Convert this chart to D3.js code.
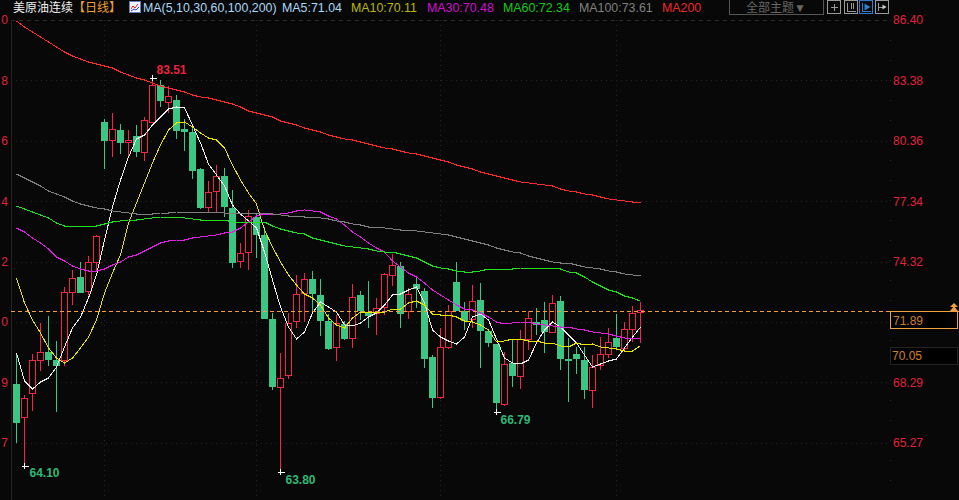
<!DOCTYPE html>
<html>
<head>
<meta charset="utf-8">
<script src="https://cdn.jsdelivr.net/npm/d3@7"></script>
<style>
    html, body { margin: 0; padding: 0; background: #080808; overflow: hidden; }
    svg { display: block; font-family: "Liberation Sans", "Noto Sans CJK SC", sans-serif; }
</style>
</head>
<body>
<svg width="959" height="500"></svg>
<script>
const opens = [68.20,66.55,67.75,69.40,69.80,69.40,69.40,72.80,73.55,72.85,74.30,81.30,80.40,80.90,80.30,80.60,79.80,81.30,83.15,82.30,
    82.40,80.95,80.80,78.95,77.05,77.85,78.60,77.00,74.35,74.80,76.55,75.65,71.45,68.05,68.65,71.35,72.75,73.45,72.65,71.35,
    70.05,71.20,70.50,72.65,71.80,71.75,72.05,73.65,74.10,71.85,73.20,72.85,69.55,67.55,70.05,73.30,71.85,71.45,72.40,70.85,
    70.20,67.20,69.25,68.60,70.45,71.30,71.40,70.80,72.35,69.45,69.70,69.40,67.90,69.15,69.70,70.50,70.00,70.95,71.80];
const closes = [66.25,67.50,69.40,69.80,69.40,69.10,72.80,73.50,72.75,74.30,75.60,80.35,80.95,80.25,80.40,79.80,81.40,83.15,82.35,82.60,
    80.85,80.80,78.85,77.00,77.80,78.60,77.05,74.25,74.75,76.60,75.65,71.45,68.05,68.50,71.25,72.70,73.45,72.70,71.35,69.95,
    71.25,70.45,72.55,71.85,71.60,72.00,73.70,74.15,71.70,72.70,72.95,69.45,67.50,70.05,71.85,71.85,71.35,72.35,70.85,70.25,
    67.25,69.20,68.60,70.45,71.50,71.15,70.80,72.25,69.45,69.35,69.45,67.90,69.05,69.70,70.30,70.05,70.95,71.75,71.89];
const highs = [69.75,67.65,69.70,71.25,71.60,70.35,73.05,73.90,74.30,74.60,75.65,81.45,81.75,81.20,80.90,81.15,81.55,83.51,83.40,83.10,
    82.65,81.45,81.05,79.00,78.35,79.15,79.00,77.90,75.25,76.90,76.75,76.05,71.75,69.75,71.75,73.65,73.75,73.85,73.45,71.70,
    71.65,71.35,73.20,72.85,73.35,72.50,73.75,74.70,74.30,73.00,73.50,73.00,69.65,71.00,72.15,74.30,72.30,73.15,73.25,70.90,
    70.20,69.80,70.40,70.90,71.85,72.00,72.30,72.65,72.60,70.50,70.05,70.05,69.65,70.55,71.00,71.70,71.30,72.10,72.30];
const lows = [65.25,64.10,66.85,68.85,69.10,66.80,69.10,72.15,72.75,72.65,73.90,78.95,79.55,79.70,79.55,79.55,79.35,81.25,82.05,81.75,
    80.45,79.85,78.45,76.95,76.75,76.75,76.55,74.00,74.00,73.90,74.50,71.45,67.90,63.80,68.45,71.00,71.30,71.80,70.60,69.90,
    69.35,70.40,70.00,71.40,71.00,70.65,71.65,73.10,71.00,71.45,72.00,69.00,67.00,67.45,69.95,71.85,70.90,71.00,69.00,70.05,
    66.79,67.10,68.05,67.95,69.90,70.65,69.75,70.75,68.90,67.30,68.70,67.45,67.00,68.90,69.50,70.00,69.80,70.30,70.25];

const ma5 = [69.75,68.35,67.95,68.30,68.50,69.05,70.05,71.00,71.55,72.50,73.65,75.40,77.05,78.40,79.55,80.45,80.65,81.15,81.55,81.95,
    82.05,82.00,81.15,80.25,79.20,78.65,78.10,77.15,76.70,76.35,76.00,74.80,73.40,72.05,71.05,70.45,70.80,71.75,72.30,72.05,
    71.80,71.15,71.10,71.25,71.55,71.75,72.15,72.65,72.70,72.90,73.05,72.25,70.90,70.55,70.35,70.20,70.55,71.55,71.70,71.40,
    70.45,69.50,69.25,69.20,69.40,70.25,70.90,71.30,71.05,70.65,70.25,69.65,69.05,69.20,69.35,69.45,70.00,70.55,71.04];
const ma10 = [73.50,72.25,71.40,70.75,70.00,69.50,69.25,69.50,70.00,70.55,71.40,72.75,73.75,74.65,76.25,77.25,78.25,79.25,80.15,80.90,
    81.25,81.30,81.05,80.75,80.50,80.40,80.00,79.15,78.40,77.75,77.20,75.90,75.05,74.30,73.65,73.15,72.70,72.50,72.15,71.50,
    71.15,71.00,71.50,71.80,71.80,71.80,71.80,71.95,71.95,72.25,72.35,72.15,71.70,71.65,71.65,71.55,71.35,71.30,71.15,70.90,
    70.30,70.35,70.45,70.45,70.35,70.35,70.25,70.25,70.10,70.05,70.25,70.15,70.20,70.05,70.00,69.95,69.85,69.85,70.11];
const ma30 = [76.00,75.80,75.50,75.25,74.95,74.55,74.35,74.10,73.95,73.85,73.85,73.95,74.15,74.30,74.55,74.65,74.85,75.05,75.25,75.35,
    75.40,75.40,75.50,75.55,75.60,75.65,75.75,75.80,76.00,76.30,76.60,76.70,76.70,76.70,76.75,76.85,76.90,76.85,76.80,76.60,
    76.45,76.15,75.80,75.55,75.25,75.00,74.80,74.35,74.05,73.75,73.55,73.25,72.90,72.65,72.40,72.15,71.95,71.90,71.75,71.55,
    71.30,71.20,71.25,71.30,71.30,71.20,71.15,71.10,71.05,71.05,70.95,70.90,70.80,70.75,70.70,70.60,70.50,70.45,70.48];
const ma60 = [77.10,76.95,76.80,76.65,76.50,76.25,76.10,76.10,76.10,76.10,76.10,76.20,76.30,76.35,76.40,76.40,76.45,76.50,76.55,76.55,
    76.55,76.50,76.45,76.40,76.40,76.40,76.40,76.30,76.25,76.30,76.30,76.30,76.10,75.95,75.85,75.75,75.70,75.50,75.40,75.30,
    75.20,75.10,75.05,75.00,74.95,74.85,74.80,74.80,74.70,74.60,74.50,74.30,74.10,74.00,73.95,73.85,73.80,73.80,73.85,73.95,
    73.95,73.95,73.95,74.00,74.00,74.00,74.00,74.00,73.95,73.80,73.75,73.55,73.30,73.10,72.90,72.80,72.60,72.50,72.34];
const ma100 = [78.70,78.50,78.30,78.10,77.85,77.70,77.55,77.35,77.20,77.10,77.00,76.95,76.85,76.80,76.75,76.70,76.70,76.70,76.75,76.75,
    76.80,76.80,76.80,76.80,76.80,76.80,76.75,76.75,76.75,76.75,76.75,76.75,76.70,76.65,76.60,76.60,76.55,76.55,76.50,76.45,
    76.35,76.30,76.20,76.15,76.05,76.05,76.00,75.95,75.90,75.90,75.85,75.80,75.75,75.70,75.65,75.55,75.45,75.35,75.25,75.15,
    75.00,74.90,74.80,74.75,74.60,74.50,74.40,74.30,74.25,74.25,74.15,74.05,74.00,73.95,73.85,73.80,73.70,73.65,73.61];
const ma200 = [86.35,86.05,85.80,85.55,85.30,85.05,84.80,84.60,84.45,84.30,84.20,84.10,84.00,83.80,83.65,83.50,83.40,83.25,83.10,83.00,
    82.90,82.80,82.65,82.55,82.50,82.40,82.30,82.20,82.05,81.85,81.75,81.65,81.55,81.35,81.25,81.15,81.00,80.90,80.80,80.65,
    80.55,80.45,80.40,80.30,80.20,80.10,80.00,79.95,79.85,79.75,79.70,79.60,79.50,79.40,79.30,79.15,79.05,78.95,78.80,78.70,
    78.60,78.50,78.40,78.30,78.25,78.20,78.15,78.10,77.95,77.85,77.80,77.70,77.65,77.55,77.45,77.40,77.35,77.30,77.30];

const priceTicks = [86.40, 83.38, 80.36, 77.34, 74.32, 71.30, 68.29, 65.27];
const timeTicks = [11, 30, 53, 75];
const lastPrice = 71.89;
const openPrice = 70.05;

const maSeries = [
    { values: ma5, color: '#f0f0f0' },
    { values: ma10, color: '#e6e600' },
    { values: ma30, color: '#e020e0' },
    { values: ma60, color: '#20e020' },
    { values: ma100, color: '#808080' },
    { values: ma200, color: '#ff2a2a' }
];

// high/low callouts: candle index, price, where the text sits
const extremes = [
    { i: 17, price: 83.51, color: '#e8233f', tx: 4, ty: -4 },
    { i: 1, price: 64.10, color: '#2fb878', tx: 5, ty: 11 },
    { i: 33, price: 63.80, color: '#2fb878', tx: 5, ty: 12 },
    { i: 60, price: 66.79, color: '#2fb878', tx: 4, ty: 12 }
];

const headerTexts = [
    { t: '美原油连续', x: 13, color: '#f0f0f0', size: 12 },
    { t: '【日线】', x: 73, color: '#f0a030', size: 12 },
    { t: 'MA(5,10,30,60,100,200)', x: 143, color: '#a8d8f8', size: 12.4 },
    { t: 'MA5:71.04', x: 282, color: '#a8d8f8', size: 12.4 },
    { t: 'MA10:70.11', x: 351, color: '#b8b800', size: 12.4 },
    { t: 'MA30:70.48', x: 427, color: '#d010d0', size: 12.4 },
    { t: 'MA60:72.34', x: 503, color: '#18c818', size: 12.4 },
    { t: 'MA100:73.61', x: 579, color: '#808080', size: 12.4 },
    { t: 'MA200', x: 662, color: '#f02828', size: 12.4 }
];

const BG = '#080808';
const RED = '#f5254a';
const GREEN = '#3cc684';

init();

function init() {
    const svg = d3.select('svg');

    const x = d3.scaleLinear().domain([0, 78]).range([16.5, 640.5]);
    const y = d3.scaleLinear().domain([86.4, 61.4]).range([20, 520]);
    const py = p => Math.round(y(p));
    const f2 = d3.format('.2f');

    svg.append('rect').attr('width', 959).attr('height', 500).attr('fill', BG);

    // grid
    const grid = svg.append('g').attr('shape-rendering', 'crispEdges');
    priceTicks.forEach(d => {
        grid.append('line')
            .attr('x1', 11).attr('x2', 889)
            .attr('y1', py(d) + 0.5).attr('y2', py(d) + 0.5)
            .attr('stroke', d === priceTicks[0] ? '#2c2c2c' : '#262626')
            .attr('stroke-dasharray', d === priceTicks[0] ? '4,4' : '1,4');
    });
    timeTicks.forEach(d => {
        grid.append('line')
            .attr('x1', x(d)).attr('x2', x(d))
            .attr('y1', 20).attr('y2', 500)
            .attr('stroke', '#262626')
            .attr('stroke-dasharray', '1,4');
    });

    // axes, the left one only shows the last digit of each price
    const leftAxis = d3.axisLeft(y).tickValues(priceTicks).tickFormat(d => f2(d).slice(-1)).tickSize(0).tickPadding(0);
    const rightAxis = d3.axisRight(y).tickValues(priceTicks).tickFormat(f2).tickSize(0).tickPadding(3);
    const gl = svg.append('g').attr('transform', 'translate(8,0)').call(leftAxis);
    const gr = svg.append('g').attr('transform', 'translate(890,0)').call(rightAxis);
    [gl, gr].forEach(g => {
        g.select('.domain').remove();
        g.selectAll('text').attr('fill', '#e0233f').style('font-size', '12px').style('font-family', '"Liberation Sans"');
    });
    svg.append('line').attr('x1', 11.5).attr('x2', 11.5).attr('y1', 20).attr('y2', 500)
        .attr('stroke', '#222').attr('shape-rendering', 'crispEdges');
    svg.append('line').attr('x1', 890.5).attr('x2', 890.5).attr('y1', 20).attr('y2', 500)
        .attr('stroke', '#2a2a2a').attr('stroke-dasharray', '1,19').attr('shape-rendering', 'crispEdges');

    // candles
    const candles = d3.range(opens.length).map(i => ({
        i, o: opens[i], c: closes[i], h: highs[i], l: lows[i], up: closes[i] >= opens[i]
    }));
    const gc = svg.append('g').attr('shape-rendering', 'crispEdges');
    const cg = gc.selectAll('g').data(candles).enter().append('g');
    cg.append('line')
        .attr('x1', d => x(d.i)).attr('x2', d => x(d.i))
        .attr('y1', d => py(d.h)).attr('y2', d => py(d.l))
        .attr('stroke', d => d.up ? RED : GREEN);
    cg.append('rect')
        .attr('x', d => x(d.i) - (d.up ? 3 : 3.5))
        .attr('y', d => py(Math.max(d.o, d.c)) + (d.up ? 0.5 : 0))
        .attr('width', d => d.up ? 6 : 7)
        .attr('height', d => Math.max(1, py(Math.min(d.o, d.c)) - py(Math.max(d.o, d.c))))
        .attr('fill', d => d.up ? BG : GREEN)
        .attr('stroke', d => d.up ? RED : 'none');

    // moving averages
    const line = d3.line().x((d, i) => x(i)).y(d => y(d));
    maSeries.forEach(s => {
        svg.append('path').datum(s.values)
            .attr('d', line)
            .attr('fill', 'none')
            .attr('stroke', s.color)
            .attr('stroke-width', 1)
            .attr('shape-rendering', 'crispEdges');
    });

    // high and low markers
    extremes.forEach(e => {
        const cx = x(e.i), cy = py(e.price);
        svg.append('line').attr('x1', cx - 3).attr('x2', cx + 4).attr('y1', cy + 0.5).attr('y2', cy + 0.5)
            .attr('stroke', '#fff').attr('shape-rendering', 'crispEdges');
        svg.append('line').attr('x1', cx).attr('x2', cx).attr('y1', cy - 3).attr('y2', cy + 3)
            .attr('stroke', '#fff').attr('shape-rendering', 'crispEdges');
        svg.append('text').attr('x', cx + e.tx).attr('y', cy + e.ty)
            .attr('fill', e.color).style('font-size', '12px').style('font-weight', 'bold')
            .text(f2(e.price));
    });

    // last price line and the boxes on the price axis
    svg.append('line').attr('x1', 11).attr('x2', 959)
        .attr('y1', py(lastPrice) + 1.5).attr('y2', py(lastPrice) + 1.5)
        .attr('stroke', '#f0a040').attr('stroke-dasharray', '4,3').attr('shape-rendering', 'crispEdges');
    svg.append('rect').attr('x', 890.5).attr('y', py(lastPrice) + 1.5).attr('width', 67).attr('height', 17)
        .attr('fill', '#000').attr('stroke', '#f0a040').attr('shape-rendering', 'crispEdges');
    svg.append('text').attr('x', 893).attr('y', py(lastPrice) + 15)
        .attr('fill', '#d08020').style('font-size', '12px').text(f2(lastPrice));
    svg.append('rect').attr('x', 890.5).attr('y', py(openPrice) + 0.5).attr('width', 67).attr('height', 17)
        .attr('fill', '#000').attr('stroke', '#242424').attr('shape-rendering', 'crispEdges');
    svg.append('text').attr('x', 892).attr('y', py(openPrice) + 13)
        .attr('fill', '#d08020').style('font-size', '12px').text(f2(openPrice));
    svg.append('path').attr('d', 'M954 303l4 4h-8zM954 306l4 5h-8z').attr('fill', '#f0a040');

    // header
    svg.append('rect').attr('x', 129.5).attr('y', 1.5).attr('width', 11).attr('height', 11)
        .attr('fill', '#f4f4ff').attr('stroke', '#6080c0').attr('shape-rendering', 'crispEdges');
    svg.append('path').attr('d', 'M131 9l2-3 2 2 3-4').attr('fill', 'none').attr('stroke', '#e02020');
    svg.append('path').attr('d', 'M131 11l3-2 2 1 3-3').attr('fill', 'none').attr('stroke', '#2040c0');
    headerTexts.forEach(d => {
        svg.append('text').attr('x', d.x).attr('y', 12)
            .attr('fill', d.color).style('font-size', d.size + 'px').text(d.t);
    });

    svg.append('rect').attr('x', 729.5).attr('y', -1).attr('width', 94).attr('height', 15.5)
        .attr('fill', 'none').attr('stroke', '#555').attr('shape-rendering', 'crispEdges');
    svg.append('text').attr('x', 746).attr('y', 12)
        .attr('fill', '#666').style('font-size', '12px').text('全部主题▼');

    // toolbar buttons
    [827.5, 844.5, 859.5, 875.5].forEach((bx, i) => {
        const col = i === 2 ? '#2a7fd0' : '#9a9a9a';
        svg.append('rect').attr('x', bx).attr('y', 0.5).attr('width', 13).attr('height', 13)
            .attr('fill', 'none').attr('stroke', col).attr('shape-rendering', 'crispEdges');
        const icon = [
            `M${bx + 3} 7h7M${bx + 6.5} 3.5v7`,
            `M${bx + 3} 3v8h8M${bx + 7} 3v6M${bx + 9} 3v6`,
            `M${bx + 3} 3v8h8`,
            `M${bx + 3} 3v8M${bx + 3} 7h6`
        ][i];
        svg.append('path').attr('d', icon).attr('fill', 'none').attr('stroke', col).attr('shape-rendering', 'crispEdges');
        if (i === 2) svg.append('path').attr('d', `M${bx + 5} 3.5l6 3.5-6 3.5z`).attr('fill', col);
        if (i === 3) svg.append('path').attr('d', `M${bx + 7} 4.5l4 2.5-4 2.5z`).attr('fill', '#ccc');
    });
}
</script>
</body>
</html>
